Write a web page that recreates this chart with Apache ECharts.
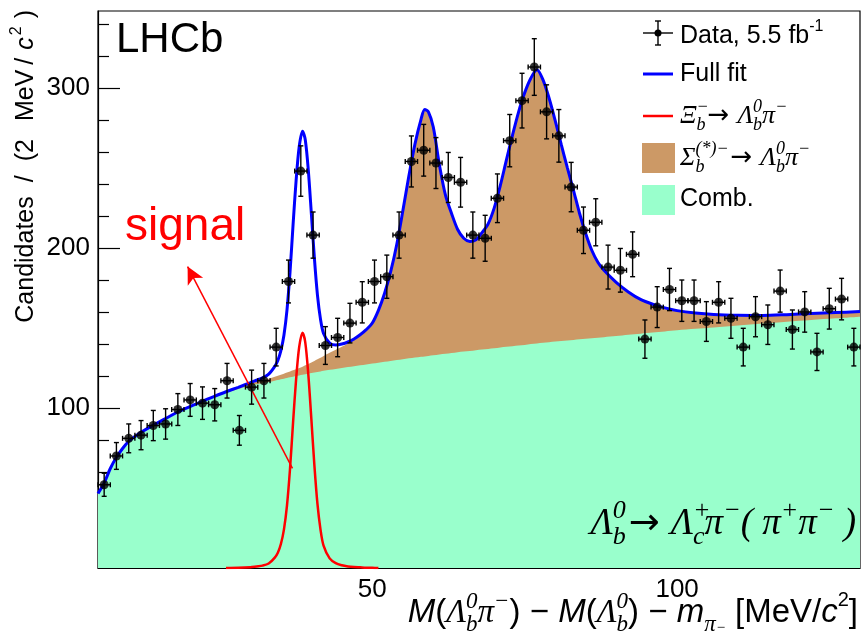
<!DOCTYPE html>
<html>
<head>
<meta charset="utf-8">
<script src="https://cdn.jsdelivr.net/npm/echarts@6/dist/echarts.min.js"></script>
<style>
  html, body { margin: 0; padding: 0; background: #fff; }
  #chart { width: 864px; height: 633px; }
</style>
</head>
<body>
<div id="chart"></div>
<script>
// ---- Data: candidates per 2 MeV bin ----
const binCenters = [6.01, 8.02, 10.04, 12.06, 14.07, 16.09, 18.10, 20.12, 22.14, 24.15,
  26.17, 28.19, 30.20, 32.22, 34.23, 36.25, 38.27, 40.28, 42.30, 44.31,
  46.33, 48.35, 50.36, 52.38, 54.39, 56.41, 58.43, 60.44, 62.46, 64.48,
  66.49, 68.51, 70.52, 72.54, 74.56, 76.57, 78.59, 80.60, 82.62, 84.64,
  86.65, 88.67, 90.69, 92.70, 94.72, 96.73, 98.75, 100.77, 102.78, 104.80,
  106.81, 108.83, 110.85, 112.86, 114.88, 116.90, 118.91, 120.93, 122.94, 124.96,
  126.98, 128.99];
const counts = [52, 70, 81, 83, 89, 90, 99, 105, 103, 102,
  117, 86, 113, 117, 138, 179, 248, 208, 139, 144,
  153, 166, 179, 182, 208, 254, 261, 253, 244, 241,
  208, 206, 231, 267, 292, 313, 285, 270, 238, 211,
  216, 188, 186, 196, 143, 163, 174, 167, 167, 154,
  166, 156, 138, 157, 152, 173, 149, 160, 135, 162,
  168, 138];
const binHalfWidth = 1.008;

// ---- Fit components sampled along the mass axis ----
const fitX = [5, 6, 7, 8, 9, 10, 11, 12, 14, 16, 18, 20, 22, 24, 26, 28,
  30, 31, 32, 33, 34, 34.5, 35, 35.5, 36, 36.5, 37, 37.5, 38, 38.55, 39, 39.5,
  40, 40.5, 41, 41.5, 42, 43, 44, 45, 46, 47, 48, 49, 50, 51, 52, 53, 54, 55,
  56, 57, 58, 58.6, 59.2, 60, 61, 62, 63, 64, 65, 66, 67, 68, 69, 70, 71, 72,
  73, 74, 75, 76, 77, 78, 79, 80, 81, 82, 83, 84, 85, 86, 87, 88, 90, 92, 94,
  96, 98, 100, 103, 106, 110, 114, 118, 122, 126, 130];
// combinatorial background
const combFit = [46.5, 53, 62, 69, 74.5, 79, 82, 84.5, 89, 93, 97, 100.3, 103.5, 106.5, 109.3, 111.8,
  114, 114.8, 115.5, 116.2, 117, 117.4, 117.9, 118.3, 118.7, 119.1, 119.5, 119.9, 120.3, 120.7, 121, 121.4,
  121.8, 122.1, 122.5, 122.8, 123.2, 123.8, 124.4, 125, 125.6, 126.1, 126.7, 127.2, 127.8, 128.3, 128.9, 129.4, 129.9, 130.5,
  131, 131.5, 132, 132.2, 132.5, 132.9, 133.4, 133.8, 134.3, 134.8, 135.2, 135.6, 136.1, 136.5, 136.9, 137.3, 137.8, 138.2,
  138.6, 139, 139.4, 139.9, 140.3, 140.7, 141.1, 141.5, 141.8, 142.2, 142.5, 142.9, 143.2, 143.5, 143.9, 144.2, 144.9, 145.7, 146.4,
  147.1, 147.8, 148.5, 149.4, 150.3, 151.5, 152.7, 153.9, 155, 156, 157];
// Sigma_b^(*)- -> Lambda_b pi- component
const sigmabFit = [0, 0, 0, 0, 0, 0, 0, 0.1, 0.1, 0.2, 0.3, 0.4, 0.5, 0.6, 0.8, 1.0,
  1.3, 1.5, 1.8, 2.1, 2.5, 2.7, 2.9, 3.1, 3.4, 3.7, 4.0, 4.3, 4.7, 5.1, 5.6, 6.1,
  6.6, 7.3, 8.0, 8.6, 9.3, 10.7, 11.9, 13.2, 14.6, 16.4, 18.6, 21.5, 25.2, 32.7, 42.6, 55.6, 72.1, 92.5,
  114, 133.5, 148.5, 154.3, 152.5, 142.6, 118.6, 99.2, 87.2, 76.7, 70.8, 68.4, 68.9, 73, 78.1, 87.7, 101.2, 116.8,
  131.9, 146, 157.6, 166.1, 171, 164.3, 152.4, 138, 122.7, 107.8, 93.5, 78.6, 65.8, 55, 47.1, 41.8, 33.6, 26.8, 21.4,
  17.7, 14.7, 12.3, 9.9, 8.1, 6.4, 5.1, 4.4, 4.0, 3.6, 3.2];
// Xi_b- -> Lambda_b pi- signal (null where the shape is not drawn)
const signalFit = [null, null, null, null, null, null, null, null, null, null, null, null, null, null, 0, 0.1,
  0.5, 1, 1.5, 2.8, 6.5, 9.5, 15, 24, 39, 62, 91, 118, 138, 147, 141, 121,
  93, 64, 40, 24, 14, 6, 3, 1.7, 1, 0.6, 0.4, 0.2, 0.1, 0, null, null, null, null,
  null, null, null, null, null, null, null, null, null, null, null, null, null, null, null, null, null, null,
  null, null, null, null, null, null, null, null, null, null, null, null, null, null, null, null, null, null, null,
  null, null, null, null, null, null, null, null, null, null, null];

// ---- Axis ticks ----
const xMajorTicks = [50, 100];
const xMinorTicks = [10, 20, 30, 40, 60, 70, 80, 90, 110, 120];
const yMajorTicks = [100, 200, 300];
const yMinorTicks = [20, 40, 60, 80, 120, 140, 160, 180, 220, 240, 260, 280, 320, 340];

// annotation arrow pointing from the signal peak to its label
const signalArrow = { from: [36.9, 62.3], to: [19.7, 188.3] };

const SANS = '"Liberation Sans", Arial, Helvetica, sans-serif';
const SERIF = '"Liberation Serif", "Times New Roman", serif';
const ARROW = '"DejaVu Sans", sans-serif';

// rich-text styles for formula-like labels at base font size B
function mathStyles(B) {
  const s = Math.round(B * 0.7);
  const L = Math.round(B * 1.4);
  const base = { fontSize: B, lineHeight: L, verticalAlign: 'middle', align: 'left', fill: '#000', color: '#000' };
  const sup = { fontFamily: SERIF, fontStyle: 'italic', fontSize: s, lineHeight: Math.round(B * 0.86),
    verticalAlign: 'top', align: 'left', fill: '#000', color: '#000' };
  const sub = { fontFamily: SERIF, fontStyle: 'italic', fontSize: s, lineHeight: Math.round(B * 0.62),
    verticalAlign: 'bottom', align: 'left', fill: '#000', color: '#000' };
  return {
    t: Object.assign({}, base, { fontFamily: SANS }),
    i: Object.assign({}, base, { fontFamily: SANS, fontStyle: 'italic' }),
    g: Object.assign({}, base, { fontFamily: SERIF, fontStyle: 'italic' }),
    r: Object.assign({}, base, { fontFamily: SERIF }),
    a: Object.assign({}, base, { fontFamily: ARROW, padding: [0, Math.round(B * 0.3), 0, Math.round(B * 0.08)] }),
    sp: sup,
    sp0: Object.assign({}, sup, { width: 0 }),
    sps: Object.assign({}, sup, { fontFamily: SANS, fontStyle: 'normal', fontSize: Math.round(B * 0.62) }),
    sb: sub,
    sb0: Object.assign({}, sub, { width: 0 }),
    sb2: Object.assign({}, sub, { fontSize: Math.round(B * 0.45), lineHeight: Math.round(B * 1.1) })
  };
}
function padLeft(style, n) {
  return Object.assign({}, style, { padding: [0, 0, 0, n] });
}

// y-axis title styles (ROOT-like loose spacing)
const yTitleRich = (function () {
  const m = mathStyles(25);
  return {
    t: m.t,
    p10: padLeft(m.t, 14),
    p14: padLeft(m.t, 18),
    p4: padLeft(m.t, 5),
    c: padLeft(m.i, 8),
    s2: padLeft(m.sps, 2),
    cl: padLeft(m.t, 8)
  };
})();

const chart = echarts.init(document.getElementById('chart'), null, { renderer: 'canvas' });

const dataPoints = binCenters.map((x, i) => [x, counts[i]]);
const dataErrors = binCenters.map((x, i) => [x, counts[i], Math.sqrt(counts[i])]);
const bkgTop = fitX.map((x, i) => [x, combFit[i] + sigmabFit[i]]);
const combLine = fitX.map((x, i) => [x, combFit[i]]);
const signalLine = fitX.map((x, i) => [x, signalFit[i]]).filter(p => p[1] !== null);
const fullFit = fitX.map((x, i) => [x, combFit[i] + sigmabFit[i] + (signalFit[i] || 0)]);

const axisFont = { fontFamily: SANS, fontSize: 26, color: '#000' };
const blackLine = { color: '#000', width: 1.2 };

const option = {
  animation: false,
  backgroundColor: '#fff',
  grid: {
    left: 98, right: 4, top: 11, bottom: 65,
    show: true, borderColor: '#000', borderWidth: 1.2, backgroundColor: 'transparent',
    containLabel: false, outerBoundsMode: 'none'
  },
  xAxis: [
    {
      type: 'value', min: 5, max: 130, position: 'bottom',
      axisLine: { show: true, lineStyle: blackLine },
      axisTick: { show: true, inside: true, length: 18, customValues: xMajorTicks, lineStyle: blackLine },
      axisLabel: Object.assign({ customValues: xMajorTicks, margin: 9 }, axisFont),
      splitLine: { show: false }
    },
    {
      type: 'value', min: 5, max: 130, position: 'bottom',
      axisLine: { show: false },
      axisTick: { show: true, inside: true, length: 9, customValues: xMinorTicks, lineStyle: blackLine },
      axisLabel: { show: false },
      splitLine: { show: false }
    }
  ],
  yAxis: [
    {
      type: 'value', min: 0, max: 348, position: 'left',
      axisLine: { show: true, lineStyle: blackLine },
      axisTick: { show: true, inside: true, length: 22, customValues: yMajorTicks, lineStyle: blackLine },
      axisLabel: Object.assign({ customValues: yMajorTicks, margin: 8 }, axisFont),
      splitLine: { show: false }
    },
    {
      type: 'value', min: 0, max: 348, position: 'left',
      axisLine: { show: false },
      axisTick: { show: true, inside: true, length: 11, customValues: yMinorTicks, lineStyle: blackLine },
      axisLabel: { show: false },
      splitLine: { show: false }
    }
  ],
  series: [
    {
      name: 'Sigma_b', type: 'line', data: bkgTop, xAxisIndex: 0, yAxisIndex: 0,
      smooth: 0.3, symbol: 'none', z: 1,
      lineStyle: { width: 0, opacity: 0 },
      areaStyle: { color: '#cc9966', opacity: 1 }
    },
    {
      name: 'Comb.', type: 'line', data: combLine, xAxisIndex: 0, yAxisIndex: 0,
      smooth: 0.3, symbol: 'none', z: 2,
      lineStyle: { width: 0, opacity: 0 },
      areaStyle: { color: '#99ffcc', opacity: 1 }
    },
    {
      name: 'Xi_b', type: 'line', data: signalLine, xAxisIndex: 0, yAxisIndex: 0,
      smooth: 0.3, symbol: 'none', z: 3,
      lineStyle: { color: '#ff0000', width: 2.5 },
      markLine: {
        silent: true, symbol: ['none', 'arrow'], symbolSize: [13, 17],
        lineStyle: { color: '#ff0000', width: 1.5, type: 'solid' },
        label: { show: false },
        data: [[{ coord: signalArrow.from }, { coord: signalArrow.to }]]
      }
    },
    {
      name: 'Full fit', type: 'line', data: fullFit, xAxisIndex: 0, yAxisIndex: 0,
      smooth: 0.3, symbol: 'none', z: 4,
      lineStyle: { color: '#0000ff', width: 3 }
    },
    {
      name: 'Data errors', type: 'custom', data: dataErrors, xAxisIndex: 0, yAxisIndex: 0, z: 5,
      encode: { x: 0, y: 1 },
      renderItem: function (params, api) {
        const x = api.value(0), y = api.value(1), e = api.value(2);
        const c = api.coord([x, y]);
        const top = api.coord([x, y + e])[1];
        const bot = api.coord([x, y - e])[1];
        const l = api.coord([x - binHalfWidth, y])[0];
        const r = api.coord([x + binHalfWidth, y])[0];
        const st = { stroke: '#000', lineWidth: 1.4 };
        const cap = 2.5;
        return {
          type: 'group',
          children: [
            { type: 'line', shape: { x1: c[0], y1: top, x2: c[0], y2: bot }, style: st },
            { type: 'line', shape: { x1: c[0] - cap, y1: top, x2: c[0] + cap, y2: top }, style: st },
            { type: 'line', shape: { x1: c[0] - cap, y1: bot, x2: c[0] + cap, y2: bot }, style: st },
            { type: 'line', shape: { x1: l, y1: c[1], x2: r, y2: c[1] }, style: st },
            { type: 'line', shape: { x1: l, y1: c[1] - cap, x2: l, y2: c[1] + cap }, style: st },
            { type: 'line', shape: { x1: r, y1: c[1] - cap, x2: r, y2: c[1] + cap }, style: st }
          ]
        };
      }
    },
    {
      name: 'Data', type: 'scatter', data: dataPoints, xAxisIndex: 0, yAxisIndex: 0, z: 6,
      symbol: 'circle', symbolSize: 9, itemStyle: { color: '#000' }
    }
  ],
  graphic: [
    // experiment tag
    { type: 'text', x: 116, y: 40, z: 100,
      style: { text: 'LHCb', fontFamily: SANS, fontSize: 42, fill: '#000', verticalAlign: 'middle' } },
    // signal annotation
    { type: 'text', x: 125, y: 227, z: 100,
      style: { text: 'signal', fontFamily: SANS, fontSize: 46, fill: '#ff0000', verticalAlign: 'middle' } },
    // decay channel
    { type: 'text', x: 856, y: 524, z: 100,
      style: {
        text: '{g|Λ}{sp0|0}{sb|b}{a|→}{g|Λ}{sp0|+}{sb|c}{g|π}{sp|−}{g|( }{g|π}{sp|+}{g|π}{sp|−}{g| )}',
        rich: mathStyles(37), align: 'right', verticalAlign: 'middle'
      } },
    // x-axis title
    { type: 'text', x: 858, y: 613, z: 100,
      style: {
        text: '{i|M}{t|(}{g|Λ}{sp0|0}{sb|b}{g|π}{sp|−}{t|) − }{i|M}{t|(}{g|Λ}{sp0|0}{sb|b}{t|) − }{i|m}{sb|π}{sb2|−}{t| [MeV/}{i|c}{sps|2}{t|]}',
        rich: mathStyles(33), align: 'right', verticalAlign: 'middle'
      } },
    // y-axis title
    { type: 'text', x: 26, y: 10, rotation: Math.PI / 2, z: 100,
      style: {
        text: '{t|Candidates}{p10|/}{p10|(2}{p14|MeV}{p4|/}{c|c}{s2|2}{cl|)}',
        rich: yTitleRich, align: 'right', verticalAlign: 'middle'
      } },
    // legend: data
    { type: 'line', z: 100, shape: { x1: 643, y1: 33, x2: 673, y2: 33 }, style: { stroke: '#000', lineWidth: 1.4 } },
    { type: 'line', z: 100, shape: { x1: 658, y1: 21, x2: 658, y2: 45 }, style: { stroke: '#000', lineWidth: 1.4 } },
    { type: 'line', z: 100, shape: { x1: 655, y1: 21, x2: 661, y2: 21 }, style: { stroke: '#000', lineWidth: 1.4 } },
    { type: 'line', z: 100, shape: { x1: 655, y1: 45, x2: 661, y2: 45 }, style: { stroke: '#000', lineWidth: 1.4 } },
    { type: 'circle', z: 100, shape: { cx: 658, cy: 33, r: 3.5 }, style: { fill: '#000' } },
    { type: 'text', x: 680, y: 36, z: 100,
      style: { text: '{t|Data, 5.5 fb}{sps|-1}', rich: mathStyles(25), verticalAlign: 'middle' } },
    // legend: full fit
    { type: 'line', z: 100, shape: { x1: 643, y1: 74, x2: 673, y2: 74 }, style: { stroke: '#0000ff', lineWidth: 3 } },
    { type: 'text', x: 680, y: 74, z: 100,
      style: { text: '{t|Full fit}', rich: mathStyles(25), verticalAlign: 'middle' } },
    // legend: signal
    { type: 'line', z: 100, shape: { x1: 643, y1: 116, x2: 673, y2: 116 }, style: { stroke: '#ff0000', lineWidth: 2.5 } },
    { type: 'text', x: 680, y: 116, z: 100,
      style: { text: '{g|Ξ}{sp0|−}{sb|b}{a|→}{g|Λ}{sp0|0}{sb|b}{g|π}{sp|−}', rich: mathStyles(26), verticalAlign: 'middle' } },
    // legend: Sigma_b
    { type: 'rect', z: 100, shape: { x: 642, y: 143, width: 33, height: 30 }, style: { fill: '#cc9966' } },
    { type: 'text', x: 680, y: 158, z: 100,
      style: { text: '{g|Σ}{sb0|b}{sp|(*)−}{a|→}{g|Λ}{sp0|0}{sb|b}{g|π}{sp|−}', rich: mathStyles(26), verticalAlign: 'middle' } },
    // legend: combinatorial
    { type: 'rect', z: 100, shape: { x: 642, y: 185, width: 33, height: 30 }, style: { fill: '#99ffcc' } },
    { type: 'text', x: 680, y: 199, z: 100,
      style: { text: '{t|Comb.}', rich: mathStyles(25), verticalAlign: 'middle' } }
  ]
};

chart.setOption(option);
</script>
</body>
</html>
